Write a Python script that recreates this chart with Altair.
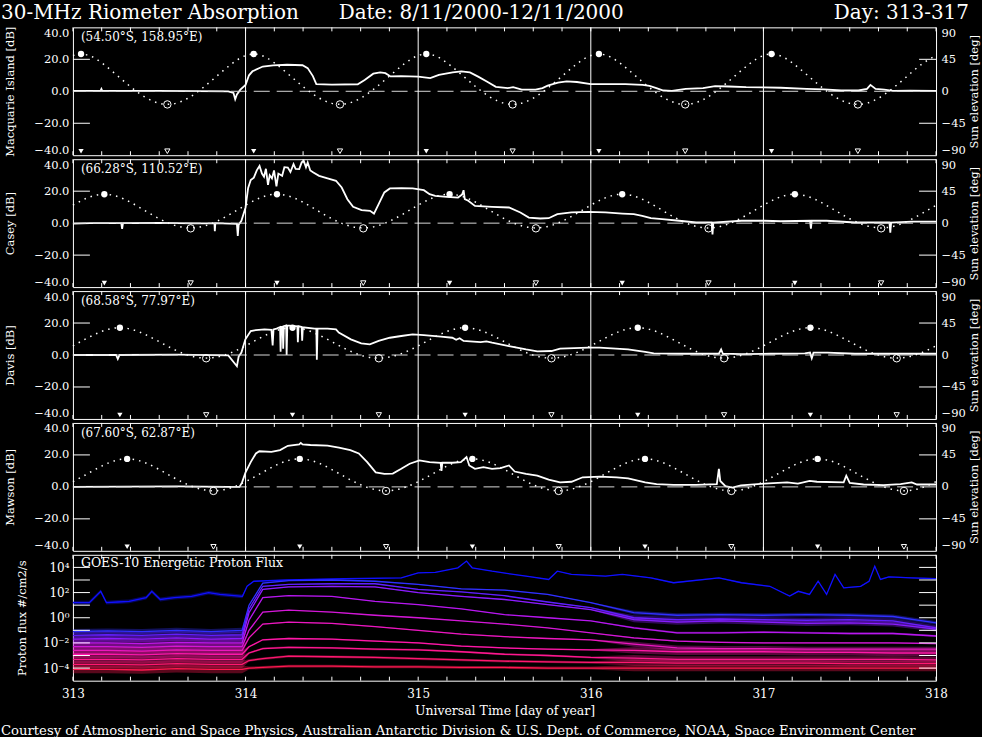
import altair as alt
import pandas as pd

FONT = "DejaVu Serif"
W, H, H5 = 864, 128, 126

# ---------------- shared axis data ----------------
DAY_LINES = [314, 315, 316, 317]
DAY_LABELS = [313, 314, 315, 316, 317, 318]
MINOR_T = [313 + k / 6 for k in range(31)]
DB_LABELS = [-40, -20, 0, 20, 40]
DB_TICKS = [-20, 20]
EL_LABELS = [-90, -45, 0, 45, 90]
EL_TICKS = [-45, 45]
DECADES = [1e-4, 1e-3, 1e-2, 1e-1, 1, 1e1, 1e2, 1e3, 1e4]
FLUX_LABELS = [1e-4, 1e-2, 1, 1e2, 1e4]

TITLE_LEFT = "30-MHz Riometer Absorption"
TITLE_MID = "Date: 8/11/2000-12/11/2000"
TITLE_RIGHT = "Day: 313-317"
FOOTER = ("Courtesy of Atmospheric and Space Physics, Australian Antarctic Division "
          "& U.S. Dept. of Commerce, NOAA, Space Environment Center")

# ---------------- riometer absorption (dB) ----------------
MQ_T = [313.0, 313.16, 313.165, 313.17, 313.5, 313.9, 313.93, 313.94, 313.95, 313.97,
        314.0, 314.02, 314.04, 314.1, 314.16, 314.24, 314.33, 314.36, 314.39, 314.41,
        314.5, 314.65, 314.69, 314.74, 314.78, 314.81, 314.84, 314.9, 315.0, 315.07,
        315.12, 315.2, 315.25, 315.3, 315.35, 315.4, 315.45, 315.52, 315.55, 315.6,
        315.68, 315.72, 315.75, 315.81, 315.86, 315.92, 316.0, 316.2, 316.3, 316.34,
        316.38, 316.42, 316.47, 316.55, 316.65, 316.72, 316.8, 316.9, 317.0, 317.1,
        317.25, 317.35, 317.45, 317.55, 317.6, 317.62, 317.65, 317.7, 317.75, 317.85, 318.0]
MQ_DB = [0.3, 0.3, 1.5, 0.3, 0.2, 0.0, -1.0, -5.0, -2.0, 1.0,
         4.0, 10.0, 12.5, 15.5, 16.2, 16.6, 16.3, 14.5, 9.5, 4.5,
         4.2, 4.4, 7.0, 11.0, 11.8, 11.3, 9.3, 9.5, 9.2, 8.2,
         10.3, 11.8, 12.4, 11.8, 9.0, 6.0, 2.8, 2.0, 2.6, 1.0,
         1.0, 2.0, 3.5, 5.4, 6.2, 5.8, 4.5, 4.5, 4.0, 3.4,
         2.0, 0.5, 0.3, 1.5, 2.0, 3.2, 3.0, 2.6, 2.5, 2.2,
         1.5, 1.2, 0.5, 0.5, 1.5, 4.0, 1.5, 1.0, 0.2, 0.4, 0.3]

CA_T = [313.0, 313.1, 313.28, 313.285, 313.29, 313.5, 313.7, 313.82, 313.822, 313.825,
        313.95, 313.955, 313.96, 313.976, 314.0, 314.015, 314.03, 314.048, 314.065, 314.081,
        314.095, 314.107, 314.118, 314.13, 314.14, 314.153, 314.165, 314.179, 314.19, 314.212,
        314.225, 314.245, 314.26, 314.278, 314.29, 314.311, 314.325, 314.337, 314.35, 314.36,
        314.375, 314.393, 314.426, 314.475, 314.524, 314.557, 314.59, 314.623, 314.672, 314.721,
        314.744, 314.771, 314.804, 314.836, 314.902, 314.968, 315.033, 315.066, 315.099, 315.165,
        315.231, 315.255, 315.263, 315.27, 315.29, 315.329, 315.428, 315.526, 315.592, 315.641,
        315.707, 315.756, 315.806, 315.888, 315.986, 316.085, 316.183, 316.249, 316.298, 316.348,
        316.413, 316.512, 316.61, 316.70, 316.705, 316.71, 316.873, 317.005, 317.1, 317.27,
        317.275, 317.28, 317.366, 317.53, 317.695, 317.73, 317.735, 317.74, 317.859, 318.0]
CA_DB = [-0.3, 0.0, 0.0, -3.5, 0.0, 0.2, -0.2, -0.2, -5.0, 0.0,
         -0.5, -8.0, -1.0, 1.5, 9.8, 22.0, 27.0, 28.5, 33.0, 35.8,
         31.0, 29.0, 34.0, 24.0, 30.0, 28.0, 33.0, 23.0, 31.0, 29.6,
         35.0, 34.8, 32.0, 36.9, 34.0, 33.8, 38.0, 39.0, 35.0, 38.0,
         33.0, 31.7, 29.6, 28.0, 26.5, 22.3, 15.0, 10.2, 8.1, 7.7,
         6.0, 11.9, 19.2, 21.7, 21.9, 21.7, 20.6, 18.1, 17.1, 16.5,
         16.0, 18.0, 20.6, 15.0, 14.0, 10.8, 10.2, 9.8, 6.7, 3.5,
         2.9, 3.1, 5.6, 6.7, 7.1, 6.7, 6.0, 5.6, 4.6, 3.1,
         2.5, 1.5, 0.4, 0.4, -7.0, 0.4, 1.5, 1.5, 1.2, 1.5,
         -3.5, 1.5, 1.5, 0.4, 0.4, 0.4, -6.0, 0.4, 1.0, 1.0]

DA_T = [313.0, 313.25, 313.26, 313.27, 313.6, 313.9, 313.95, 313.96, 313.976, 313.999,
        314.03, 314.06, 314.11, 314.15, 314.157, 314.162, 314.18, 314.20, 314.203, 314.207,
        314.215, 314.218, 314.222, 314.235, 314.238, 314.242, 314.27, 314.30, 314.303, 314.307,
        314.325, 314.328, 314.332, 314.40, 314.41, 314.413, 314.417, 314.475, 314.524, 314.54,
        314.61, 314.67, 314.72, 314.771, 314.836, 314.902, 314.968, 315.033, 315.132, 315.198,
        315.22, 315.24, 315.263, 315.30, 315.362, 315.395, 315.428, 315.526, 315.625, 315.69,
        315.772, 315.822, 315.986, 316.05, 316.216, 316.315, 316.365, 316.545, 316.742, 316.755,
        316.765, 316.873, 317.04, 317.24, 317.27, 317.28, 317.29, 317.37, 317.53, 317.695,
        317.86, 318.0]
DA_DB = [0.0, 0.0, -2.5, 0.0, 0.2, -0.2, -7.0, -1.0, 1.5, 9.8,
         15.0, 15.6, 16.0, 15.8, 6.0, 16.0, 16.5, 17.5, 2.0, 17.5,
         17.7, 4.0, 18.0, 18.5, 0.0, 18.5, 18.2, 18.0, 8.0, 18.0,
         17.5, 9.0, 17.3, 16.5, 16.5, -3.0, 16.5, 16.5, 16.0, 14.0,
         9.8, 7.3, 6.7, 8.8, 10.8, 11.9, 12.9, 12.5, 11.5, 10.8,
         9.5, 10.5, 8.8, 8.5, 8.1, 8.5, 7.7, 5.6, 3.5, 2.3,
         2.5, 4.0, 4.6, 4.6, 3.5, 1.9, 1.0, 0.8, 0.8, 3.5,
         0.8, 0.5, 0.8, 1.0, 1.5, -2.0, 1.5, 1.5, 0.8, 0.8,
         0.8, 0.8]

MA_T = [313.0, 313.3, 313.6, 313.9, 313.965, 313.98, 314.0, 314.03, 314.06, 314.08,
        314.15, 314.20, 314.245, 314.311, 314.32, 314.33, 314.376, 314.475, 314.541, 314.607,
        314.656, 314.705, 314.754, 314.804, 314.853, 314.902, 314.951, 315.007, 315.066, 315.13,
        315.135, 315.14, 315.198, 315.247, 315.28, 315.296, 315.329, 315.378, 315.428, 315.477,
        315.526, 315.559, 315.625, 315.69, 315.756, 315.822, 315.888, 315.953, 316.052, 316.15,
        316.216, 316.315, 316.381, 316.479, 316.61, 316.73, 316.742, 316.75, 316.78, 316.82,
        316.87, 317.005, 317.137, 317.20, 317.268, 317.31, 317.465, 317.48, 317.50, 317.58,
        317.695, 317.794, 317.859, 317.89, 318.0]
MA_DB = [0.0, 0.1, 0.3, 0.0, 0.0, 2.8, 9.1, 15.5, 20.9, 22.3,
         21.9, 23.0, 25.7, 26.6, 27.5, 26.6, 26.2, 25.8, 24.5, 23.0,
         20.9, 15.5, 9.1, 8.1, 8.3, 11.3, 14.5, 16.6, 15.5, 15.1,
         10.0, 15.1, 15.1, 15.5, 18.7, 13.4, 11.3, 12.3, 11.3, 11.7,
         13.4, 9.6, 8.1, 7.0, 4.5, 2.8, 3.2, 6.0, 6.4, 6.0,
         5.3, 2.8, 1.7, 1.3, 1.3, 1.7, 11.3, 3.7, 0.5, -0.4,
         1.0, 2.1, 2.8, 2.1, 3.8, 3.2, 2.8, 7.0, 2.5, 1.5,
         1.1, 1.7, 2.8, 1.5, 1.5]

# ---------------- sun elevation (deg), every 2 h UT ----------------
SUN_T = [313 + k / 12 for k in range(61)]
SUN_MQ = [50.3, 51.2, 40.1, 23.6, 6.5, -8.1, -17.0, -17.6, -9.7, 4.4, 21.3, 38.1,
          50.3, 51.2, 40.1, 23.6, 6.5, -8.1, -17.0, -17.6, -9.7, 4.4, 21.3, 38.1,
          50.3, 51.2, 40.1, 23.6, 6.5, -8.1, -17.0, -17.6, -9.7, 4.4, 21.3, 38.1,
          50.3, 51.2, 40.1, 23.6, 6.5, -8.1, -17.0, -17.6, -9.7, 4.4, 21.3, 38.1,
          50.3, 51.2, 40.1, 23.6, 6.5, -8.1, -17.0, -17.6, -9.7, 4.4, 21.3, 38.1,
          50.3]
SUN_CA = [25.3, 35.5, 40.6, 38.1, 29.4, 17.7, 6.2, -2.6, -6.6, -4.7, 2.6, 13.4,
          25.3, 35.5, 40.6, 38.1, 29.4, 17.7, 6.2, -2.6, -6.6, -4.7, 2.6, 13.4,
          25.3, 35.5, 40.6, 38.1, 29.4, 17.7, 6.2, -2.6, -6.6, -4.7, 2.6, 13.4,
          25.3, 35.5, 40.6, 38.1, 29.4, 17.7, 6.2, -2.6, -6.6, -4.7, 2.6, 13.4,
          25.3, 35.5, 40.6, 38.1, 29.4, 17.7, 6.2, -2.6, -6.6, -4.7, 2.6, 13.4,
          25.3]
SUN_DA = [12.9, 23.8, 33.2, 38.2, 36.6, 29.1, 18.7, 8.1, -0.2, -4.2, -2.9, 3.3,
          12.9, 23.8, 33.2, 38.2, 36.6, 29.1, 18.7, 8.1, -0.2, -4.2, -2.9, 3.3,
          12.9, 23.8, 33.2, 38.2, 36.6, 29.1, 18.7, 8.1, -0.2, -4.2, -2.9, 3.3,
          12.9, 23.8, 33.2, 38.2, 36.6, 29.1, 18.7, 8.1, -0.2, -4.2, -2.9, 3.3,
          12.9, 23.8, 33.2, 38.2, 36.6, 29.1, 18.7, 8.1, -0.2, -4.2, -2.9, 3.3,
          12.9]
SUN_MA = [7.3, 18.3, 29.3, 37.3, 39.2, 34.2, 24.4, 13.1, 3.0, -3.7, -5.3, -1.2,
          7.3, 18.3, 29.3, 37.3, 39.2, 34.2, 24.4, 13.1, 3.0, -3.7, -5.3, -1.2,
          7.3, 18.3, 29.3, 37.3, 39.2, 34.2, 24.4, 13.1, 3.0, -3.7, -5.3, -1.2,
          7.3, 18.3, 29.3, 37.3, 39.2, 34.2, 24.4, 13.1, 3.0, -3.7, -5.3, -1.2,
          7.3, 18.3, 29.3, 37.3, 39.2, 34.2, 24.4, 13.1, 3.0, -3.7, -5.3, -1.2,
          7.3]

NOON_MQ = [313.047, 314.047, 315.047, 316.047, 317.047]
MIDN_MQ = [313.547, 314.547, 315.547, 316.547, 317.547]
NOON_CA = [313.182, 314.182, 315.182, 316.182, 317.182]
MIDN_CA = [313.682, 314.682, 315.682, 316.682, 317.682]
NOON_DA = [313.272, 314.272, 315.272, 316.272, 317.272]
MIDN_DA = [313.772, 314.772, 315.772, 316.772, 317.772]
NOON_MA = [313.314, 314.314, 315.314, 316.314, 317.314]
MIDN_MA = [313.814, 314.814, 315.814, 316.814, 317.814]
EL_MAX = {"MQ": 52.5, "CA": 40.7, "DA": 38.4, "MA": 39.4}
EL_MIN = {"MQ": -18.5, "CA": -7.3, "DA": -4.6, "MA": -5.7}

# ---------------- GOES-10 proton flux (log10 #/cm2/s/sr) ----------------
P1_T = [313.0, 313.095, 313.161, 313.194, 313.26, 313.325, 313.424, 313.457, 313.506, 313.588,
        313.687, 313.786, 313.851, 313.917, 313.982, 314.009, 314.048, 314.245, 314.574, 314.902,
        315.0, 315.099, 315.23, 315.28, 315.313, 315.428, 315.625, 315.756, 315.806, 315.888,
        316.085, 316.183, 316.348, 316.479, 316.742, 316.873, 317.037, 317.152, 317.202, 317.267,
        317.317, 317.366, 317.415, 317.465, 317.563, 317.612, 317.645, 317.678, 317.727, 317.859,
        318.0]
P1_V = [1.2, 1.2, 2.1, 1.2, 1.25, 1.3, 1.6, 2.1, 1.45, 1.6,
        1.7, 2.0, 1.85, 1.77, 1.7, 2.5, 2.9, 3.0, 3.1, 3.17,
        3.57, 3.6, 3.97, 4.5, 3.97, 3.7, 3.3, 3.04, 3.7, 3.44,
        3.3, 3.44, 3.17, 2.78, 3.17, 2.78, 2.5, 1.72, 2.1, 1.85,
        2.9, 1.85, 3.44, 2.38, 2.5, 2.9, 4.1, 3.04, 3.25, 3.17,
        3.1]
PF_T = [313.0, 313.2, 313.4, 313.6, 313.8, 313.98, 314.02, 314.1, 314.25, 314.5, 314.75,
        315.0, 315.25, 315.5, 315.75, 316.0, 316.25, 316.5, 316.75, 317.0, 317.25, 317.5,
        317.75, 318.0]
P2_V = [-1.1, -1.05, -1.1, -1.0, -1.1, -1.0, 1.0, 2.75, 2.95, 3.0, 2.9, 2.65, 2.3, 2.2,
        1.85, 1.2, 0.4, 0.2, 0.25, 0.2, 0.25, 0.2, 0.1, -0.4]
P3_V = [-1.4, -1.35, -1.4, -1.3, -1.4, -1.35, 0.7, 2.5, 2.65, 2.7, 2.7, 2.25, 2.05, 1.75,
        1.25, 0.8, 0.0, -0.15, -0.1, -0.15, -0.2, -0.15, -0.25, -0.8]
P4_V = [-1.7, -1.65, -1.7, -1.6, -1.7, -1.65, 0.4, 2.25, 2.45, 2.5, 2.45, 2.0, 1.7, 1.45,
        1.05, 0.65, -0.15, -0.35, -0.25, -0.35, -0.45, -0.4, -0.5, -0.9]
P5_V = [-2.0, -2.0, -2.05, -1.95, -2.0, -2.0, -0.2, 1.6, 1.75, 1.7, 1.3, 1.05, 0.7, 0.25,
        0.0, -0.25, -0.8, -1.2, -1.2, -1.15, -1.2, -1.25, -1.25, -1.45]
P6_V = [-2.3, -2.3, -2.35, -2.25, -2.3, -2.3, -1.0, 0.45, 0.6, 0.45, 0.2, 0.0, -0.25, -0.5,
        -0.8, -1.2, -1.6, -1.85, -1.95, -2.0, -2.0, -2.0, -2.0, -2.05]
P7_V = [-2.6, -2.6, -2.65, -2.55, -2.6, -2.6, -1.6, -0.5, -0.35, -0.45, -0.7, -1.0, -1.3, -1.5,
        -1.65, -1.75, -2.1, -2.4, -2.45, -2.45, -2.5, -2.5, -2.5, -2.5]
P8_V = [-2.9, -2.9, -2.95, -2.85, -2.9, -2.9, -2.3, -1.75, -1.65, -1.7, -1.85, -2.0, -2.25, -2.4,
        -2.5, -2.55, -2.6, -2.7, -2.7, -2.7, -2.75, -2.75, -2.8, -2.8]
P9_V = [-3.3, -3.3, -3.35, -3.25, -3.3, -3.3, -2.8, -2.45, -2.35, -2.4, -2.5, -2.55, -2.7, -2.9,
        -3.0, -3.15, -3.2, -3.3, -3.3, -3.3, -3.3, -3.3, -3.3, -3.35]
P10_V = [-3.7, -3.7, -3.75, -3.65, -3.7, -3.7, -3.4, -3.25, -3.05, -3.1, -3.15, -3.25, -3.35, -3.45,
         -3.5, -3.55, -3.55, -3.6, -3.6, -3.6, -3.6, -3.65, -3.65, -3.65]
P11_V = [-4.1, -4.1, -4.15, -4.05, -4.1, -4.1, -4.0, -3.95, -3.85, -3.85, -3.9, -3.9, -3.95, -3.95,
         -4.0, -4.0, -4.0, -4.0, -4.0, -4.0, -4.0, -4.0, -4.0, -4.0]
CH_NAMES = ["P1", "P2", "P3", "P4", "P5", "P6", "P7", "P8", "P9", "P10", "P11"]
CH_COLORS = ["#1010ff", "#3030ff", "#6020ff", "#8c1cff", "#b818f0", "#d418d8",
             "#ec18c0", "#ff18a8", "#ff1890", "#ff1870", "#ff1850"]
NOISE_PRE = [0.15, 0.2, 0.25, 0.25, 0.3, 0.3, 0.3, 0.3, 0.3, 0.3, 0.3]
NOISE_MID = [0.03, 0.04, 0.04, 0.04, 0.03, 0.03, 0.04, 0.06, 0.08, 0.1, 0.12]
NOISE_LATE = [0.05, 0.15, 0.2, 0.2, 0.08, 0.06, 0.2, 0.25, 0.25, 0.25, 0.25]

# ---------------- scales & axes ----------------
XS = alt.Scale(domain=[313, 318], nice=False, zero=False)
DBS = alt.Scale(domain=[-40, 40], nice=False, zero=False)
ELS = alt.Scale(domain=[-90, 90], nice=False, zero=False)
FLS = alt.Scale(type="log", domain=[1e-5, 1e5], nice=False)

X_AXIS_BOTTOM = alt.Axis(values=DAY_LABELS, format="d", title="Universal Time [day of year]",
                         labelPadding=8, titlePadding=5, labelFontSize=12, titleFontSize=12.5,
                         labelFlush=False)
EL_AXIS = alt.Axis(orient="right", values=EL_LABELS, format="d",
                   title="Sun elevation [deg]", titleAngle=270, titleX=38,
                   titleY=H / 2, titleAlign="center", titleBaseline="middle",
                   labelFlush=True, labelPadding=5)
FL_AXIS = alt.Axis(values=FLUX_LABELS,
                   labelExpr=("datum.value > 1000 ? '10⁴' : datum.value > 10 ? '10²' : "
                              "datum.value > 0.1 ? '10⁰' : datum.value > 0.001 ? '10⁻²' : '10⁻⁴'"),
                   title="Proton flux #/cm2/s", titleAngle=270, titleX=-50, titleY=H5 / 2,
                   titleAlign="center", titleBaseline="middle", labelPadding=4,
                   labelFontSize=12)


def db_axis(label):
    return alt.Axis(values=DB_LABELS, format=".1f", title=f"{label} [dB]",
                    titleAngle=270, titleX=-62, titleY=H / 2, titleAlign="center",
                    titleBaseline="middle", labelFlush=True, labelPadding=4)


def one_row():
    return pd.DataFrame({"k": [0]})


def text_layer(txt, x, y, size, align="left", baseline="top"):
    return alt.Chart(one_row()).mark_text(
        align=align, baseline=baseline, font=FONT, fontSize=size, color="white"
    ).encode(x=alt.value(x), y=alt.value(y), text=alt.value(txt))


def riometer(label, coord, t, db, sun, noon, midn, el_max, el_min, extra=()):
    def X():
        return alt.X("t:Q", scale=XS, axis=None, title=None)

    ya = db_axis(label)

    def YD():
        return alt.Y("db:Q", scale=DBS, axis=ya)

    def YE():
        return alt.Y("el:Q", scale=ELS, axis=EL_AXIS)

    minor = pd.DataFrame({"t": MINOR_T})
    l_days = alt.Chart(pd.DataFrame({"t": DAY_LINES})).mark_rule(
        color="white", strokeWidth=1).encode(x=X())
    l_top = alt.Chart(minor).mark_rule(color="white").encode(
        x=X(), y=alt.value(0), y2=alt.value(4))
    l_bot = alt.Chart(minor).mark_rule(color="white").encode(
        x=X(), y=alt.value(H - 4), y2=alt.value(H))
    l_zero = alt.Chart(pd.DataFrame({"db": [0]})).mark_rule(
        color="#d8d8d8", strokeWidth=1, strokeDash=[16, 7]).encode(y=YD())
    l_dbt = alt.Chart(pd.DataFrame({"db": DB_TICKS})).mark_rule(color="white").encode(
        y=YD(), x=alt.value(0), x2=alt.value(17))
    l_line = alt.Chart(pd.DataFrame({"t": t, "db": db})).mark_line(
        color="white", strokeWidth=1.8).encode(x=X(), y=YD())
    l_tri_f = alt.Chart(pd.DataFrame({"t": noon})).mark_point(
        shape="triangle-down", filled=True, size=28, color="white", opacity=1).encode(
        x=X(), y=alt.value(H - 4))
    l_tri_o = alt.Chart(pd.DataFrame({"t": midn})).mark_point(
        shape="triangle-down", filled=False, size=28, color="white", opacity=1,
        strokeWidth=1).encode(x=X(), y=alt.value(H - 4))
    l_lab = text_layer(coord, 8, 5, 12)
    g_db = alt.layer(l_line, l_zero, l_dbt, l_days, l_top, l_bot, l_tri_f, l_tri_o,
                     l_lab, *extra)

    l_sun = alt.Chart(pd.DataFrame({"t": SUN_T, "el": sun})).mark_line(
        color="white", strokeWidth=1.5, strokeDash=[1.5, 5], interpolate="natural").encode(
        x=X(), y=YE())
    l_max = alt.Chart(pd.DataFrame({"t": noon, "el": [el_max] * len(noon)})).mark_point(
        shape="circle", filled=True, size=40, color="white", opacity=1).encode(x=X(), y=YE())
    l_min = alt.Chart(pd.DataFrame({"t": midn, "el": [el_min] * len(midn)})).mark_point(
        shape="circle", filled=False, size=55, color="white", opacity=1,
        strokeWidth=1).encode(x=X(), y=YE())
    l_elt = alt.Chart(pd.DataFrame({"el": EL_TICKS})).mark_rule(color="white").encode(
        y=YE(), x=alt.value(W - 17), x2=alt.value(W))
    g_el = alt.layer(l_sun, l_max, l_min, l_elt)
    return alt.layer(g_db, g_el).resolve_scale(y="independent").properties(width=W, height=H)


title_layers = (
    text_layer(TITLE_LEFT, -72, -24, 20),
    text_layer(TITLE_MID, 266, -24, 20),
    text_layer(TITLE_RIGHT, 897, -24, 20, align="right"),
)

p1 = riometer("Macquarie Island", "(54.50°S, 158.95°E)", MQ_T, MQ_DB, SUN_MQ,
              NOON_MQ, MIDN_MQ, EL_MAX["MQ"], EL_MIN["MQ"], extra=title_layers)
p2 = riometer("Casey", "(66.28°S, 110.52°E)", CA_T, CA_DB, SUN_CA,
              NOON_CA, MIDN_CA, EL_MAX["CA"], EL_MIN["CA"])
p3 = riometer("Davis", "(68.58°S, 77.97°E)", DA_T, DA_DB, SUN_DA,
              NOON_DA, MIDN_DA, EL_MAX["DA"], EL_MIN["DA"])
p4 = riometer("Mawson", "(67.60°S, 62.87°E)", MA_T, MA_DB, SUN_MA,
              NOON_MA, MIDN_MA, EL_MAX["MA"], EL_MIN["MA"])

# ---------------- proton panel ----------------
series = [(P1_T, P1_V), (PF_T, P2_V), (PF_T, P3_V), (PF_T, P4_V), (PF_T, P5_V),
          (PF_T, P6_V), (PF_T, P7_V), (PF_T, P8_V), (PF_T, P9_V), (PF_T, P10_V),
          (PF_T, P11_V)]
rows = []
for i, (ts, vs) in enumerate(series):
    for t, v in zip(ts, vs):
        if t < 314.0:
            half = NOISE_PRE[i]
        elif t >= 316.25:
            half = NOISE_LATE[i]
        else:
            half = NOISE_MID[i]
        rows.append({"t": t, "ch": CH_NAMES[i], "flux": 10 ** v,
                     "lo": 10 ** (v - half), "hi": 10 ** (v + half)})
pdf = pd.DataFrame(rows)
COLS = alt.Scale(domain=CH_NAMES, range=CH_COLORS)


def X5():
    return alt.X("t:Q", scale=XS, axis=X_AXIS_BOTTOM)


l_band = alt.Chart(pdf).mark_area(opacity=0.35).encode(
    x=X5(), y=alt.Y("lo:Q", scale=FLS, axis=FL_AXIS), y2="hi:Q",
    color=alt.Color("ch:N", scale=COLS, legend=None))
l_pl = alt.Chart(pdf).mark_line(strokeWidth=1.3).encode(
    x=X5(), y=alt.Y("flux:Q", scale=FLS, axis=FL_AXIS),
    color=alt.Color("ch:N", scale=COLS, legend=None))
dec = pd.DataFrame({"f": DECADES})
l_ltick = alt.Chart(dec).mark_rule(color="white").encode(
    y=alt.Y("f:Q", scale=FLS, axis=FL_AXIS), x=alt.value(0), x2=alt.value(17))
l_rtick = alt.Chart(dec).mark_rule(color="white").encode(
    y=alt.Y("f:Q", scale=FLS, axis=FL_AXIS), x=alt.value(W - 17), x2=alt.value(W))
minor5 = pd.DataFrame({"t": MINOR_T})
l_top5 = alt.Chart(minor5).mark_rule(color="white").encode(
    x=X5(), y=alt.value(0), y2=alt.value(4))
l_bot5 = alt.Chart(minor5).mark_rule(color="white").encode(
    x=X5(), y=alt.value(H5 - 4), y2=alt.value(H5))
l_goes = text_layer("GOES-10 Energetic Proton Flux", 8, 2, 12.5)
l_foot = text_layer(FOOTER, -72, H5 + 50, 13.2, baseline="middle")

p5 = alt.layer(l_pl, l_band, l_ltick, l_rtick, l_top5, l_bot5, l_goes, l_foot).properties(
    width=W, height=H5)

chart = alt.vconcat(p1, p2, p3, p4, p5, spacing=4, bounds="flush").properties(
    padding={"left": 0, "top": 2, "right": 2, "bottom": 0},
    background="black",
).configure_view(
    stroke="white", strokeWidth=1
).configure_axis(
    labelColor="white", titleColor="white", labelFont=FONT, titleFont=FONT,
    labelFontSize=11.5, titleFontSize=11.5, titleFontWeight="normal",
    domain=False, ticks=False, grid=False,
)

chart.save("out.html", embed_options={"renderer": "svg", "actions": False})
